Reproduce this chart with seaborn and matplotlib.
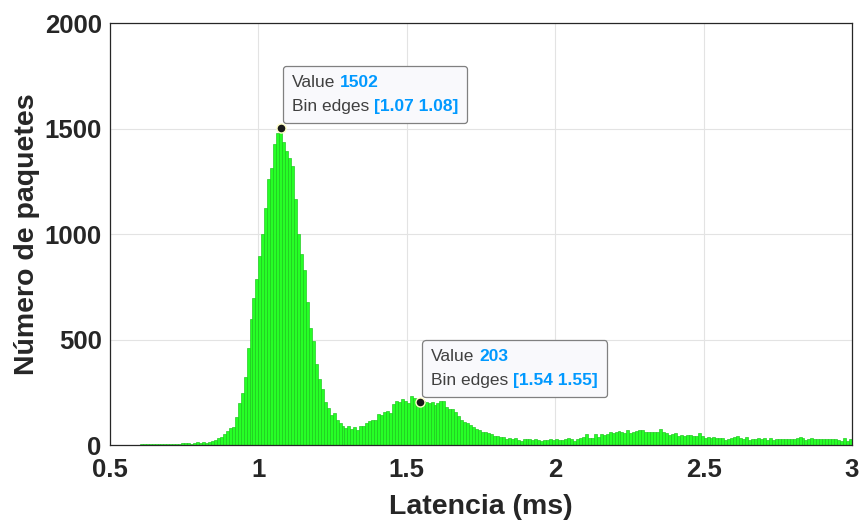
import numpy as np
import pandas as pd
import seaborn as sns
import matplotlib
matplotlib.use("Agg")
import matplotlib.pyplot as plt
from matplotlib.offsetbox import TextArea, HPacker, VPacker, AnnotationBbox

# ---------------- data ----------------
bin_start = 0.5
bin_width = 0.01
counts = (
    [0] * 10
    + [3, 4, 4, 3, 4, 5, 4, 5, 5, 6, 6, 5, 7, 7, 8]
    + [8, 8, 7, 11, 12, 11, 12, 9]
    + [16, 19, 24, 32, 40, 52, 65, 82, 86, 134, 197, 245, 323, 458, 595, 699, 788,
       896, 1002, 1121, 1261, 1313, 1425, 1480, 1502, 1436, 1393, 1362, 1321, 1168,
       999, 904, 829, 679, 556, 495, 383, 311, 264, 205, 174, 142, 153, 118, 106, 90,
       82, 90, 76, 86, 71, 90, 90, 103, 115, 118, 118, 145, 142, 156, 161, 150, 194,
       208, 205, 216, 210, 200, 233, 225, 216, 203, 210, 205, 200, 205, 189, 200, 210,
       210, 181, 170, 170, 155, 139, 118, 110, 103, 95, 87, 76, 71, 63, 60, 55, 52, 44,
       42, 36, 36, 27, 34, 29, 34, 24, 19, 27]
    + [28, 27, 22, 30, 24, 21, 26, 24, 28, 24, 28, 24, 24, 28, 31, 27, 21, 28, 34, 39,
       50, 34, 31, 50, 39, 50, 47, 50, 60, 55, 60, 66, 63, 58, 71, 58, 63, 66, 71, 71,
       60, 63, 60, 63, 60, 76, 60, 58, 47, 50, 55, 42, 47, 44]
    + [47, 47, 43, 43, 55, 43, 32, 36, 32, 36, 32, 35, 32, 24, 28, 32, 36, 43, 32, 27,
       36, 24, 27, 27, 32, 27, 32, 24, 32, 24, 27, 27, 27, 27, 27, 27, 27, 32, 36, 32,
       24, 27, 32, 27, 27, 27, 28, 27, 27, 27, 27, 24, 20, 32, 20, 27]
)
tip_bins = [57, 104]          # bins highlighted with data tips

x_ticks = [0.5, 1, 1.5, 2, 2.5, 3]
x_tick_labels = ["0.5", "1", "1.5", "2", "2.5", "3"]
y_ticks = [0, 500, 1000, 1500, 2000]
y_tick_labels = ["0", "500", "1000", "1500", "2000"]
x_label = "Latencia (ms)"
y_label = "Número de paquetes"

# ---------------- derived ----------------
n = len(counts)
edges = np.round(bin_start + bin_width * np.arange(n + 1), 2)
centers = (edges[:-1] + edges[1:]) / 2
df = pd.DataFrame({"lat": centers, "n": counts})

# ---------------- style ----------------
sns.set_style("white")
plt.rcParams["font.family"] = ["Liberation Sans", "DejaVu Sans"]
plt.rcParams["font.weight"] = "bold"

fig = plt.figure(figsize=(8.61, 5.22), dpi=100)
ax = fig.add_axes([0.1278, 0.1475, 0.8617, 0.8084])

sns.histplot(data=df, x="lat", weights="n", binwidth=bin_width,
             binrange=(edges[0], edges[-1]), ax=ax,
             stat="count", color="#26FF26", alpha=1.0,
             edgecolor="#19C419", linewidth=0.45, zorder=2)

ax.set_xlim(0.5, 3)
ax.set_ylim(0, 2000)
ax.set_xticks(x_ticks)
ax.set_xticklabels(x_tick_labels)
ax.set_yticks(y_ticks)
ax.set_yticklabels(y_tick_labels)
ax.grid(True, color="#E3E3E3", linewidth=0.8, zorder=0)
ax.set_axisbelow(True)

tick_color = "#262626"
ax.tick_params(axis="both", direction="in", length=5, width=0.8,
               colors=tick_color, labelsize=18.5, top=False, right=False)
for lab in ax.get_xticklabels() + ax.get_yticklabels():
    lab.set_fontweight("bold")
ax.tick_params(axis="x", pad=9)
ax.tick_params(axis="y", pad=6)
for s in ax.spines.values():
    s.set_color(tick_color)
    s.set_linewidth(0.9)

ax.set_xlabel(x_label, fontsize=20.5, fontweight="bold", color=tick_color, labelpad=9)
ax.set_ylabel(y_label, fontsize=20.5, fontweight="bold", color=tick_color, labelpad=3)

# ---------------- data tips ----------------
tip_fs = 12.5
gray = "#404040"
blue = "#0099FF"
for b in tip_bins:
    xc = centers[b]
    val = counts[b]
    ax.plot([xc], [val], marker="o", markersize=6.5, color="#1a1a1a",
            markeredgecolor="#FFFFC8", markeredgewidth=1.0, zorder=6, clip_on=False)
    line1 = HPacker(children=[
        TextArea("Value", textprops=dict(color=gray, fontsize=tip_fs, fontweight="normal")),
        TextArea(f"{val}", textprops=dict(color=blue, fontsize=tip_fs, fontweight="bold")),
    ], align="baseline", pad=0, sep=3.5)
    line2 = HPacker(children=[
        TextArea("Bin edges", textprops=dict(color=gray, fontsize=tip_fs, fontweight="normal")),
        TextArea(f"[{edges[b]:.2f} {edges[b + 1]:.2f}]",
                 textprops=dict(color=blue, fontsize=tip_fs, fontweight="bold")),
    ], align="baseline", pad=0, sep=3.5)
    box = VPacker(children=[line1, line2], align="left", pad=6.5, sep=6.5)
    ab = AnnotationBbox(box, (xc, val), xycoords="data",
                        xybox=(1.5, 3.6), boxcoords="offset points",
                        box_alignment=(0, 0), pad=0, frameon=True,
                        bboxprops=dict(boxstyle="round,pad=0,rounding_size=0.25",
                                       facecolor="#F9F9FC", edgecolor="#808080",
                                       linewidth=0.9),
                        zorder=7, annotation_clip=False)
    ax.add_artist(ab)

fig.savefig("out.png", dpi=100)
